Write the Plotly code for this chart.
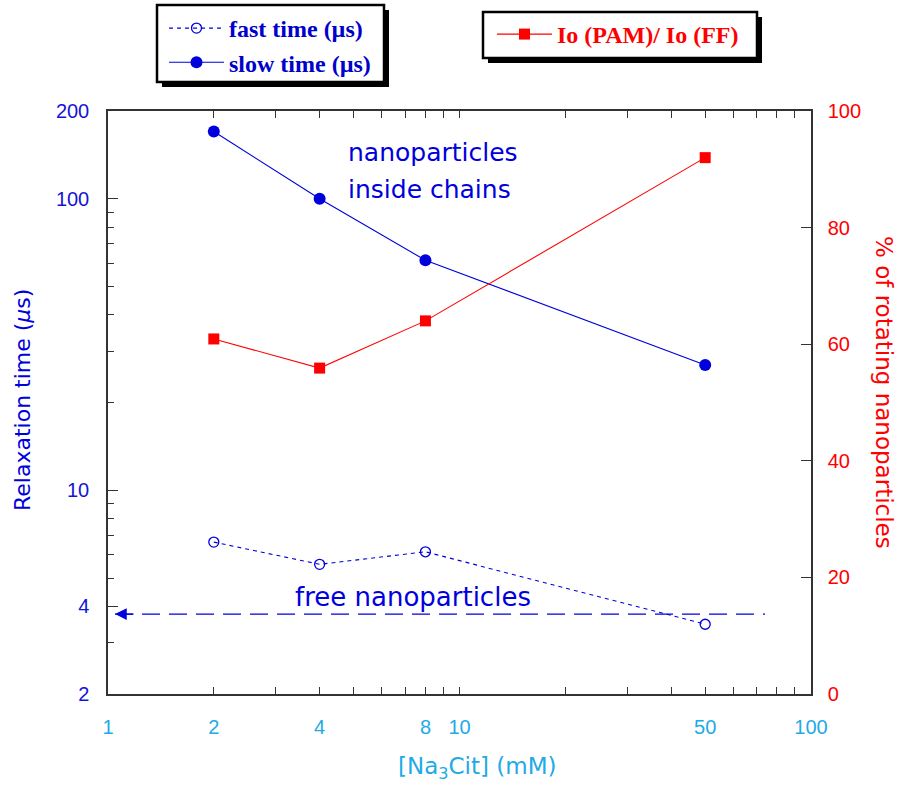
import math
import plotly.graph_objects as go

# ---------------- data ----------------
conc = [2, 4, 8, 50]                      # [Na3Cit] (mM)
fast_time = [6.64, 5.57, 6.15, 3.47]      # µs
slow_time = [170, 100, 61.5, 26.9]        # µs
io_ratio = [60.9, 55.9, 64.0, 92.0]       # % of rotating nanoparticles
free_level = 3.76                         # µs, free nanoparticles reference
free_span = [1.047, 74]

x_tickvals = [1, 2, 4, 8, 10, 50, 100]
x_ticktext = ["1", "2", "4", "8", "10", "50", "100"]
x_minor = [3, 5, 6, 7, 9, 20, 30, 40, 60, 70, 80, 90]
y_tickvals = [2, 4, 10, 100, 200]
y_ticktext = ["2", "4", "10", "100", "200"]
y_minor = [3, 5, 6, 7, 8, 9, 20, 30, 40, 50, 60, 70, 80, 90]
y2_tickvals = [0, 20, 40, 60, 80, 100]

# ---------------- style ----------------
W, H = 902, 791
L, R, T, B = 108, 91, 111, 97
BLUE = "#0000dd"
RED = "#ff0000"
LBLUE = "#22aae6"
AX = "#333333"
COMIC = "Comic Sans MS, DejaVu Sans, sans-serif"


def px(x):
    return (x - L) / (W - L - R)


def py(y):
    return (H - B - y) / (H - B - T)


fig = go.Figure()

fig.add_trace(go.Scatter(
    x=free_span, y=[free_level, free_level], mode="lines",
    line=dict(color=BLUE, width=1.3, dash="18px,9px"), showlegend=False,
    hoverinfo="skip"))

fig.add_trace(go.Scatter(
    x=conc, y=fast_time, mode="lines+markers", name="fast time (µs)",
    line=dict(color=BLUE, width=1.1, dash="4px,4px"),
    marker=dict(symbol="circle-open", size=10, color=BLUE, line=dict(width=1.3)),
    legend="legend", legendgroup="a"))

fig.add_trace(go.Scatter(
    x=conc, y=slow_time, mode="lines+markers", name="slow time (µs)",
    line=dict(color=BLUE, width=1.1),
    marker=dict(symbol="circle", size=12, color=BLUE),
    legend="legend", legendgroup="b"))

fig.add_trace(go.Scatter(
    x=conc, y=io_ratio, mode="lines+markers", name="Io (PAM)/ Io (FF)",
    line=dict(color=RED, width=1.1),
    marker=dict(symbol="square", size=11, color=RED),
    yaxis="y2", legend="legend2"))

shapes = []
# legend boxes with drop shadows
for (x0, y0, x1, y1) in [(157, 5, 384, 82), (483, 12, 757, 58)]:
    shapes.append(dict(type="rect", xref="paper", yref="paper",
                       x0=px(x0 + 5), x1=px(x1 + 5), y0=py(y0 + 5), y1=py(y1 + 5),
                       fillcolor="black", line=dict(width=0), layer="below"))
    shapes.append(dict(type="rect", xref="paper", yref="paper",
                       x0=px(x0), x1=px(x1), y0=py(y0), y1=py(y1),
                       fillcolor="white", line=dict(color="black", width=2.5),
                       layer="below"))

annotations = [
    dict(text="nanoparticles", xref="paper", yref="paper", x=px(346), y=py(152),
         xanchor="left", yanchor="middle", showarrow=False,
         font=dict(family=COMIC, size=25, color=BLUE)),
    dict(text="inside chains", xref="paper", yref="paper", x=px(346), y=py(189),
         xanchor="left", yanchor="middle", showarrow=False,
         font=dict(family=COMIC, size=25, color=BLUE)),
    dict(text="free nanoparticles", xref="paper", yref="paper", x=px(413), y=py(597),
         xanchor="center", yanchor="middle", showarrow=False,
         font=dict(family=COMIC, size=26, color=BLUE)),
    # arrow head of the free-nanoparticle line
    dict(text="", xref="x", yref="y", x=0.02,
         y=math.log10(free_level), ax=20, ay=0, showarrow=True, arrowhead=2,
         arrowsize=1.8, arrowwidth=1.3, arrowcolor=BLUE),
    # axis titles
    dict(text="Relaxation time (<i>µ</i>s)", xref="paper", yref="paper",
         x=px(22), y=py(400), textangle=-90, showarrow=False,
         xanchor="center", yanchor="middle",
         font=dict(family=COMIC, size=22, color=BLUE)),
    dict(text="% of rotating nanoparticles", xref="paper", yref="paper",
         x=px(884), y=py(392), textangle=90, showarrow=False,
         xanchor="center", yanchor="middle",
         font=dict(family=COMIC, size=23, color=RED)),
    dict(text="[Na<sub>3</sub>Cit] (mM)", xref="paper", yref="paper",
         x=px(477), y=py(768), showarrow=False,
         xanchor="center", yanchor="middle",
         font=dict(family=COMIC, size=23, color=LBLUE)),
]

fig.update_layout(
    width=W, height=H,
    margin=dict(l=L, r=R, t=T, b=B, autoexpand=False),
    paper_bgcolor="white", plot_bgcolor="white",
    shapes=shapes, annotations=annotations,
    xaxis=dict(type="log", range=[0, 2], tickmode="array", tickvals=x_tickvals,
               ticktext=x_ticktext, ticks="inside", ticklen=7, tickcolor=AX,
               tickwidth=1, showline=True, linecolor=AX, linewidth=1.5,
               mirror="ticks", showgrid=False, zeroline=False,
               tickfont=dict(family="Liberation Sans", size=20, color=LBLUE),
               ticklabelstandoff=14, automargin=False,
               minor=dict(tickmode="array", tickvals=x_minor, ticks="inside",
                          ticklen=7, tickcolor=AX, showgrid=False)),
    yaxis=dict(type="log", range=[math.log10(2), math.log10(200)],
               tickmode="array", tickvals=y_tickvals, ticktext=y_ticktext,
               ticks="inside", ticklen=10, tickcolor=AX, showline=True,
               linecolor=AX, linewidth=1.5, showgrid=False, zeroline=False,
               tickfont=dict(family="Liberation Sans", size=20, color="#1414d4"),
               ticklabelstandoff=13, automargin=False,
               minor=dict(tickmode="array", tickvals=y_minor, ticks="inside",
                          ticklen=6, tickcolor=AX, showgrid=False)),
    yaxis2=dict(overlaying="y", side="right", range=[0, 100], tickmode="array",
                tickvals=y2_tickvals, ticks="inside", ticklen=10, tickcolor=AX,
                showline=True, linecolor=AX, linewidth=1.5, showgrid=False,
                zeroline=False, automargin=False,
                tickfont=dict(family="Liberation Sans", size=20, color=RED),
                ticklabelstandoff=11),
    legend=dict(x=px(164), y=py(6), xanchor="left", yanchor="top",
                bgcolor="rgba(0,0,0,0)", borderwidth=0, tracegroupgap=0,
                traceorder="grouped", itemwidth=55,
                font=dict(family="Liberation Serif", size=24, color="#0000cc",
                          weight="bold")),
    legend2=dict(x=px(492), y=py(12), xanchor="left", yanchor="top",
                 bgcolor="rgba(0,0,0,0)", borderwidth=0, itemwidth=55,
                 font=dict(family="Liberation Serif", size=24, color=RED,
                           weight="bold")),
)

fig.write_html("out.html",
               config={"displayModeBar": False},
               post_script="document.body.style.margin='0';")
